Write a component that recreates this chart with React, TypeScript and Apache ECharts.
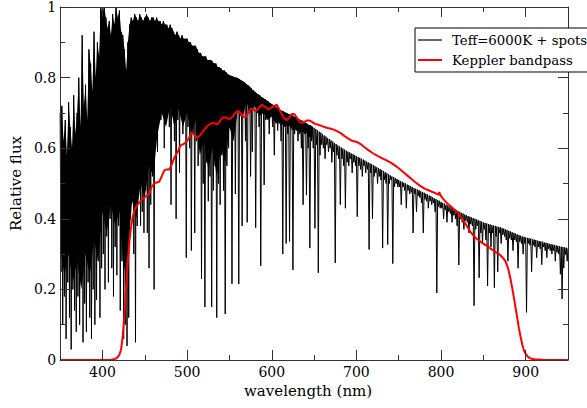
import React, { useEffect, useRef } from "react";
import * as echarts from "echarts";

// ---- Spectrum (Teff=6000K + spots): sampled every 2 nm; "top" value at λ, "low" (line core) at λ+1 ----
const spectrumStep = 2;

const segment1Start = 350;
const fluxTop1 = [
  0.70, 0.72, 0.62, 0.68, 0.58, 0.73, 0.66, 0.60, 0.75, 0.64,
  0.70, 0.80, 0.66, 0.92, 0.72, 0.78, 0.68, 0.88, 0.84, 0.76,
  0.93, 0.80, 0.90, 0.86, 1.00, 0.98, 1.00, 0.97, 0.94, 0.96,
  0.92, 0.98, 0.95, 1.00, 0.97, 0.99, 0.93, 0.92, 0.88, 0.82,
  0.90, 0.95, 0.97, 0.96, 0.98, 0.97, 0.96, 0.98, 0.97, 0.96,
];
const fluxLow1 = [
  0.25, 0.10, 0.18, 0.06, 0.22, 0.12, 0.03, 0.20, 0.14, 0.08,
  0.18, 0.10, 0.24, 0.05, 0.16, 0.08, 0.22, 0.12, 0.06, 0.20,
  0.10, 0.17, 0.28, 0.12, 0.26, 0.30, 0.20, 0.35, 0.22, 0.40,
  0.26, 0.18, 0.32, 0.24, 0.38, 0.14, 0.28, 0.06, 0.10, 0.04,
  0.12, 0.40, 0.55, 0.30, 0.05, 0.38, 0.50, 0.38, 0.42, 0.36,
];

const segment2Start = 450;
const fluxTop2 = [
  0.97, 0.98, 0.97, 0.96, 0.97, 0.97, 0.96, 0.97, 0.96, 0.96,
  0.95, 0.96, 0.95, 0.95, 0.94, 0.95, 0.94, 0.93, 0.92, 0.93,
  0.92, 0.91, 0.92, 0.91, 0.91, 0.91, 0.90, 0.90, 0.89, 0.89,
  0.89, 0.88, 0.87, 0.87, 0.86, 0.86, 0.86, 0.85, 0.85, 0.85,
  0.845, 0.84, 0.84, 0.83, 0.83, 0.826, 0.82, 0.82, 0.815, 0.81,
];
const fluxLow2 = [
  0.48, 0.36, 0.26, 0.44, 0.52, 0.20, 0.66, 0.59, 0.72, 0.68,
  0.74, 0.60, 0.70, 0.73, 0.66, 0.44, 0.70, 0.62, 0.40, 0.68,
  0.53, 0.70, 0.64, 0.69, 0.29, 0.66, 0.60, 0.31, 0.64, 0.36,
  0.62, 0.55, 0.60, 0.23, 0.50, 0.15, 0.56, 0.45, 0.52, 0.15,
  0.48, 0.55, 0.12, 0.50, 0.44, 0.58, 0.48, 0.13, 0.55, 0.60,
];

const segment3Start = 550;
const fluxTop3 = [
  0.807, 0.805, 0.803, 0.801, 0.800, 0.798, 0.795, 0.792, 0.789, 0.786,
  0.782, 0.778, 0.774, 0.769, 0.764, 0.760, 0.756, 0.752, 0.749, 0.745,
  0.742, 0.739, 0.735, 0.732, 0.728, 0.725, 0.722, 0.718, 0.715, 0.711,
  0.708, 0.706, 0.704, 0.701, 0.699, 0.697, 0.695, 0.693, 0.690, 0.688,
  0.686, 0.683, 0.680, 0.678, 0.675, 0.672, 0.669, 0.666, 0.664, 0.661,
  0.658, 0.654, 0.651, 0.647, 0.644, 0.640, 0.636, 0.633, 0.629, 0.626,
  0.622, 0.619, 0.615, 0.612, 0.608, 0.605, 0.602, 0.599, 0.596, 0.593,
  0.590, 0.588, 0.585, 0.583, 0.580, 0.578, 0.575, 0.573, 0.570, 0.568,
  0.565, 0.562, 0.560, 0.557, 0.555, 0.552, 0.549, 0.546, 0.544, 0.541,
  0.538, 0.535, 0.532, 0.529, 0.526, 0.523, 0.520, 0.518, 0.515, 0.513,
];
const fluxLow3 = [
  0.70, 0.216, 0.72, 0.47, 0.74, 0.215, 0.70, 0.38, 0.73, 0.62,
  0.39, 0.70, 0.52, 0.59, 0.72, 0.375, 0.70, 0.66, 0.267, 0.70,
  0.496, 0.68, 0.70, 0.64, 0.69, 0.66, 0.58, 0.68, 0.65, 0.67,
  0.62, 0.30, 0.66, 0.33, 0.64, 0.336, 0.66, 0.255, 0.64, 0.65,
  0.62, 0.64, 0.60, 0.44, 0.64, 0.467, 0.60, 0.317, 0.62, 0.60,
  0.373, 0.61, 0.247, 0.58, 0.61, 0.60, 0.57, 0.61, 0.59, 0.60,
  0.56, 0.59, 0.275, 0.58, 0.57, 0.44, 0.57, 0.55, 0.43, 0.56,
  0.55, 0.57, 0.53, 0.56, 0.55, 0.406, 0.55, 0.54, 0.52, 0.55,
  0.53, 0.54, 0.313, 0.53, 0.40, 0.52, 0.53, 0.50, 0.52, 0.51,
  0.317, 0.51, 0.50, 0.327, 0.50, 0.51, 0.273, 0.49, 0.50, 0.49,
];

const segment4Start = 750;
const fluxTop4 = [
  0.510, 0.507, 0.505, 0.502, 0.500, 0.497, 0.495, 0.492, 0.490, 0.487,
  0.485, 0.483, 0.481, 0.478, 0.476, 0.474, 0.471, 0.469, 0.466, 0.464,
  0.461, 0.458, 0.456, 0.453, 0.451, 0.448, 0.445, 0.443, 0.440, 0.438,
  0.435, 0.432, 0.430, 0.427, 0.425, 0.422, 0.420, 0.417, 0.415, 0.412,
  0.410, 0.408, 0.406, 0.404, 0.402, 0.400, 0.398, 0.396, 0.394, 0.392,
  0.390, 0.388, 0.387, 0.385, 0.384, 0.382, 0.381, 0.380, 0.378, 0.377,
  0.376, 0.374, 0.372, 0.370, 0.368, 0.366, 0.364, 0.362, 0.360, 0.358,
  0.356, 0.354, 0.352, 0.350, 0.349, 0.347, 0.346, 0.345, 0.344, 0.342,
  0.341, 0.340, 0.338, 0.337, 0.336, 0.335, 0.333, 0.332, 0.331, 0.329,
  0.328, 0.327, 0.326, 0.325, 0.323, 0.322, 0.321, 0.320, 0.319, 0.318,
  0.317,
];
const fluxLow4 = [
  0.49, 0.44, 0.49, 0.48, 0.43, 0.48, 0.47, 0.475, 0.36, 0.47,
  0.42, 0.465, 0.46, 0.445, 0.36, 0.455, 0.45, 0.43, 0.45, 0.44,
  0.445, 0.42, 0.19, 0.435, 0.43, 0.43, 0.40, 0.425, 0.39, 0.42,
  0.415, 0.39, 0.41, 0.40, 0.38, 0.269, 0.40, 0.39, 0.37, 0.395,
  0.39, 0.36, 0.385, 0.38, 0.154, 0.37, 0.38, 0.233, 0.36, 0.33,
  0.37, 0.34, 0.21, 0.36, 0.32, 0.36, 0.205, 0.35, 0.25, 0.36,
  0.33, 0.355, 0.35, 0.34, 0.28, 0.345, 0.34, 0.31, 0.34, 0.335,
  0.26, 0.335, 0.33, 0.30, 0.33, 0.135, 0.33, 0.325, 0.25, 0.325,
  0.32, 0.29, 0.32, 0.315, 0.27, 0.32, 0.31, 0.29, 0.315, 0.31,
  0.30, 0.31, 0.28, 0.305, 0.30, 0.243, 0.173, 0.26, 0.30, 0.28,
  0.30,
];

// Lower edge of the unresolved (solid black) line blend in the blue–green part, every 5 nm from 350 nm
const blendStart = 350;
const blendStep = 5;
const blendLowerEdge = [
  0.32, 0.24, 0.30, 0.22, 0.28, 0.20, 0.30, 0.24, 0.34, 0.28,
  0.42, 0.36, 0.44, 0.38, 0.42, 0.25, 0.30, 0.45, 0.40, 0.50,
  0.46, 0.55, 0.52, 0.64, 0.70, 0.66, 0.72, 0.66, 0.71, 0.66,
  0.70, 0.64, 0.68, 0.58, 0.62, 0.54, 0.60, 0.52, 0.60, 0.56,
  0.66, 0.62, 0.71, 0.68, 0.73, 0.70, 0.72, 0.69, 0.70, 0.68,
  0.69, 0.67, 0.675, 0.66, 0.665, 0.65, 0.655, 0.645, 0.645, 0.63,
  0.63,
];
const blendEnd = 648;

// ---- Kepler bandpass ----
const keplerWavelength = [
  350, 380, 400, 410, 415, 418, 420, 422, 424, 426, 428, 430, 432, 434, 436, 438, 440, 444, 448, 452,
  455, 458, 461, 464, 467, 470, 473, 476, 479, 482, 485, 489, 492, 496, 499, 502, 505, 508, 511, 514,
  518, 521, 524, 527, 530, 533, 536, 539, 542, 545, 548, 551, 554, 557, 560, 563, 566, 569, 572, 575,
  578, 581, 584, 588, 592, 596, 600, 603, 606, 609, 612, 615, 618, 621, 624, 627, 630, 633, 636, 639,
  642, 645, 648, 651, 654, 658, 662, 666, 670, 674, 678, 682, 686, 690, 694, 698, 702, 706, 710, 715,
  720, 725, 730, 735, 740, 745, 750, 755, 760, 765, 770, 775, 780, 785, 790, 794, 797, 798, 799, 802,
  806, 810, 815, 820, 825, 830, 835, 839, 844, 849, 855, 860, 865, 870, 873, 876, 878, 880, 882, 884,
  886, 888, 890, 892, 894, 896, 898, 900, 903, 906, 910, 920, 950,
];
const keplerResponse = [
  0.0, 0.0, 0.0, 0.001, 0.003, 0.008, 0.015, 0.03, 0.07, 0.13, 0.21, 0.28, 0.34, 0.38, 0.41, 0.425, 0.435, 0.448, 0.458, 0.465,
  0.47, 0.49, 0.50, 0.503, 0.505, 0.52, 0.537, 0.54, 0.54, 0.555, 0.574, 0.59, 0.607, 0.612, 0.618, 0.628, 0.644, 0.64, 0.63, 0.633,
  0.645, 0.655, 0.663, 0.668, 0.672, 0.67, 0.668, 0.678, 0.686, 0.688, 0.684, 0.683, 0.69, 0.70, 0.705, 0.70, 0.69, 0.688, 0.70, 0.712,
  0.71, 0.705, 0.712, 0.723, 0.718, 0.71, 0.715, 0.72, 0.723, 0.71, 0.695, 0.683, 0.68, 0.688, 0.697, 0.696, 0.685, 0.674, 0.672, 0.675,
  0.679, 0.678, 0.674, 0.669, 0.667, 0.664, 0.66, 0.657, 0.655, 0.652, 0.647, 0.642, 0.634, 0.628, 0.622, 0.619, 0.616, 0.61, 0.602, 0.593,
  0.585, 0.578, 0.572, 0.566, 0.56, 0.552, 0.543, 0.533, 0.523, 0.513, 0.503, 0.494, 0.486, 0.481, 0.476, 0.472, 0.468, 0.476, 0.468, 0.458,
  0.447, 0.438, 0.428, 0.418, 0.40, 0.382, 0.362, 0.35, 0.34, 0.331, 0.322, 0.313, 0.305, 0.297, 0.29, 0.28, 0.268, 0.252, 0.23, 0.205,
  0.178, 0.149, 0.12, 0.09, 0.065, 0.043, 0.027, 0.017, 0.008, 0.004, 0.002, 0.001, 0.0,
];

// ---- Axes / labels ----
const xMajorTicks = [400, 500, 600, 700, 800, 900];
const xMinorTicks = [450, 550, 650, 750, 850];
const seriesNames = ["Teff=6000K + spots", "Keppler bandpass"];
const xAxisTitle = "wavelength (nm)";
const yAxisTitle = "Relative flux";

const FONT = "DejaVu Serif";
const AXIS_COLOR = "#333";

const segments: [number, number[], number[]][] = [
  [segment1Start, fluxTop1, fluxLow1],
  [segment2Start, fluxTop2, fluxLow2],
  [segment3Start, fluxTop3, fluxLow3],
  [segment4Start, fluxTop4, fluxLow4],
];

function buildSpectrum(): number[][] {
  const pts: number[][] = [];
  segments.forEach(([start, top, low]) => {
    top.forEach((t, i) => {
      const w = start + spectrumStep * i;
      pts.push([w, t]);
      if (w + 1 <= 950) pts.push([w + 1, low[i]]);
    });
  });
  return pts;
}

function buildBlendTop(): number[][] {
  const pts: number[][] = [];
  segments.forEach(([start, top]) => {
    top.forEach((t, i) => {
      const w = start + spectrumStep * i;
      if (w <= blendEnd) pts.push([w, t]);
    });
  });
  return pts;
}

function xAxisDef(position: "top" | "bottom", ticks: number[], len: number, showLine: boolean, withLabels: boolean) {
  return {
    type: "value",
    min: 350,
    max: 950,
    position,
    z: 6,
    axisLine: { show: showLine, onZero: false, lineStyle: { color: AXIS_COLOR, width: 1 } },
    axisTick: { show: true, inside: true, length: len, customValues: ticks, lineStyle: { color: AXIS_COLOR, width: 1 } },
    axisLabel: withLabels
      ? { show: true, customValues: ticks, margin: 5, fontSize: 14, color: "#000", fontFamily: FONT }
      : { show: false },
    splitLine: { show: false },
    ...(withLabels
      ? {
          name: xAxisTitle,
          nameLocation: "middle",
          nameGap: 22,
          nameTextStyle: { fontSize: 15, color: "#000", fontFamily: FONT, padding: [0, 12, 0, 0] },
        }
      : {}),
  };
}

function yAxisDef(position: "left" | "right", withLabels: boolean) {
  return {
    type: "value",
    min: 0,
    max: 1,
    interval: 0.2,
    position,
    z: 6,
    axisLine: { show: true, onZero: false, lineStyle: { color: AXIS_COLOR, width: 1 } },
    axisTick: { show: true, inside: true, length: 10, lineStyle: { color: AXIS_COLOR, width: 1 } },
    minorTick: { show: true, splitNumber: 2, length: 5, lineStyle: { color: AXIS_COLOR, width: 1 } },
    axisLabel: withLabels
      ? { show: true, margin: 4, fontSize: 14, color: "#000", fontFamily: FONT }
      : { show: false },
    splitLine: { show: false },
    minorSplitLine: { show: false },
    ...(withLabels
      ? {
          name: yAxisTitle,
          nameLocation: "middle",
          nameGap: 29,
          nameTextStyle: { fontSize: 15, color: "#000", fontFamily: FONT },
        }
      : {}),
  };
}

export default function App() {
  const ref = useRef<HTMLDivElement>(null);

  useEffect(() => {
    if (!ref.current) return;
    const chart = echarts.init(ref.current, null, { renderer: "svg" });
    const spectrum = buildSpectrum();
    const blendTop = buildBlendTop();
    const blendLower = blendLowerEdge.map((v, i) => [blendStart + blendStep * i, v]);
    const kepler = keplerWavelength.map((w, i) => [w, keplerResponse[i]]);

    chart.setOption({
      animation: false,
      backgroundColor: "#fff",
      textStyle: { fontFamily: FONT },
      grid: { left: 57, right: 19, top: 3, bottom: 48, containLabel: false },
      legend: {
        show: true,
        orient: "vertical",
        left: 415,
        top: 28,
        z: 10,
        padding: [5, 10, 5, 3],
        itemWidth: 24,
        itemHeight: 2,
        itemGap: 6,
        borderColor: "#000",
        borderWidth: 1,
        borderRadius: 0,
        backgroundColor: "#fff",
        selectedMode: false,
        align: "left",
        textStyle: { fontSize: 13.3, lineHeight: 14, color: "#000", fontFamily: FONT, padding: [0, 0, 0, 5] },
        data: [
          { name: seriesNames[0], icon: "rect", itemStyle: { color: "#666" } },
          { name: seriesNames[1], icon: "rect", itemStyle: { color: "#ff0000" } },
        ],
      },
      xAxis: [
        xAxisDef("bottom", xMajorTicks, 10, true, true),
        xAxisDef("bottom", xMinorTicks, 5, false, false),
        xAxisDef("top", xMajorTicks, 10, true, false),
        xAxisDef("top", xMinorTicks, 5, false, false),
      ],
      yAxis: [yAxisDef("left", true), yAxisDef("right", false)],
      series: [
        {
          type: "line",
          name: "blend-top",
          xAxisIndex: 0,
          yAxisIndex: 0,
          data: blendTop,
          symbol: "none",
          showSymbol: false,
          silent: true,
          lineStyle: { width: 0, opacity: 0 },
          areaStyle: { color: "#000", opacity: 1 },
          z: 1,
        },
        {
          type: "line",
          name: "blend-lower",
          xAxisIndex: 0,
          yAxisIndex: 0,
          data: blendLower,
          symbol: "none",
          showSymbol: false,
          silent: true,
          lineStyle: { width: 0, opacity: 0 },
          areaStyle: { color: "#fff", opacity: 1 },
          z: 2,
        },
        {
          type: "line",
          name: seriesNames[0],
          xAxisIndex: 0,
          yAxisIndex: 0,
          data: spectrum,
          symbol: "none",
          showSymbol: false,
          lineStyle: { color: "#000", width: 1, join: "bevel" },
          itemStyle: { color: "#000" },
          z: 3,
        },
        {
          type: "line",
          name: seriesNames[1],
          xAxisIndex: 0,
          yAxisIndex: 0,
          data: kepler,
          symbol: "none",
          showSymbol: false,
          lineStyle: { color: "#ff0000", width: 2 },
          itemStyle: { color: "#ff0000" },
          z: 4,
        },
      ],
    });

    return () => chart.dispose();
  }, []);

  return (
    <div
      ref={ref}
      style={{ position: "absolute", left: 0, top: 0, width: 587, height: 408 }}
    />
  );
}
